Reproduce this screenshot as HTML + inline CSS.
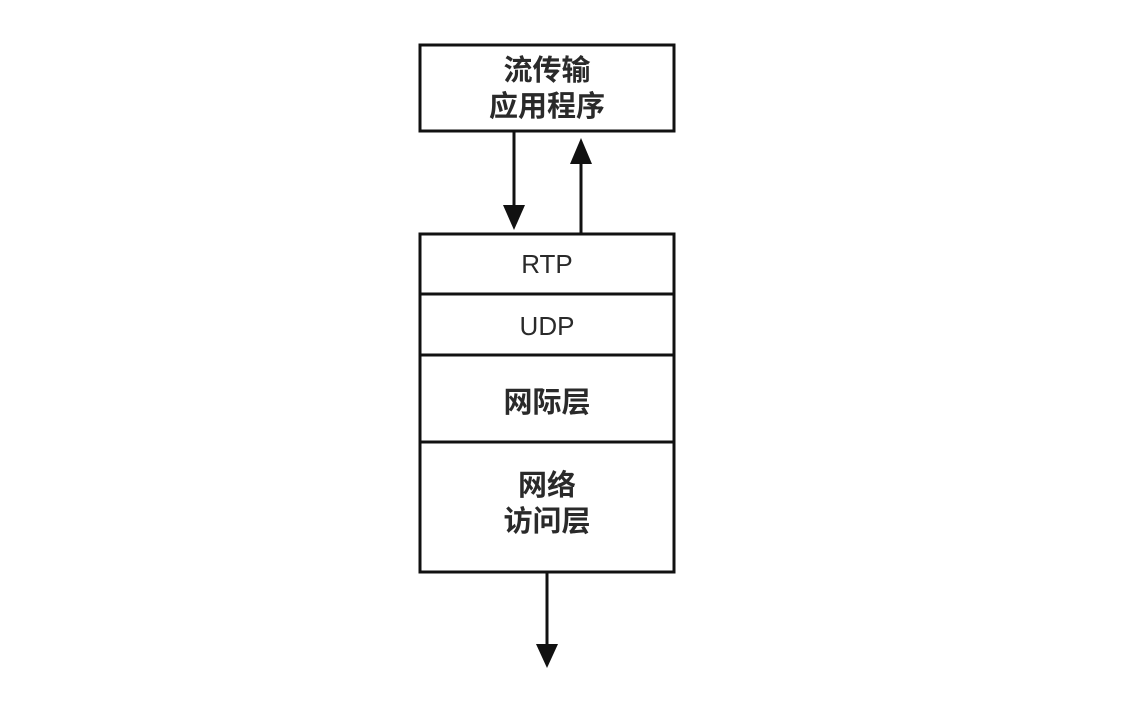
<!DOCTYPE html>
<html><head><meta charset="utf-8"><style>
body{margin:0;background:#fff}
svg text{font-family:"Liberation Sans","Noto Sans CJK SC",sans-serif;fill:#2a2a2a;text-anchor:middle}
.c{font-weight:bold}
</style></head><body>
<svg width="1122" height="704" viewBox="0 0 1122 704">
<rect width="1122" height="704" fill="#fff"/>
<g stroke="#111" stroke-width="3" fill="none">
<rect x="420" y="45" width="254" height="86"/>
<rect x="420" y="234" width="254" height="338"/>
<line x1="420" y1="294" x2="674" y2="294"/>
<line x1="420" y1="355" x2="674" y2="355"/>
<line x1="420" y1="442" x2="674" y2="442"/>
<line x1="514" y1="131" x2="514" y2="210"/>
<line x1="581" y1="234" x2="581" y2="160"/>
<line x1="547" y1="572" x2="547" y2="648"/>
</g>
<g fill="#111">
<polygon points="503,205 525,205 514,230"/>
<polygon points="570,164 592,164 581,138"/>
<polygon points="536,644 558,644 547,668"/>
</g>
<g class="c" font-size="29">
<text x="547" y="80">流传输</text>
<text x="547" y="116">应用程序</text>
<text x="547" y="412">网际层</text>
<text x="547" y="495">网络</text>
<text x="547" y="531">访问层</text>
</g>
<text x="547" y="273" font-size="26">RTP</text>
<text x="547" y="335" font-size="26">UDP</text>
</svg>
</body></html>
